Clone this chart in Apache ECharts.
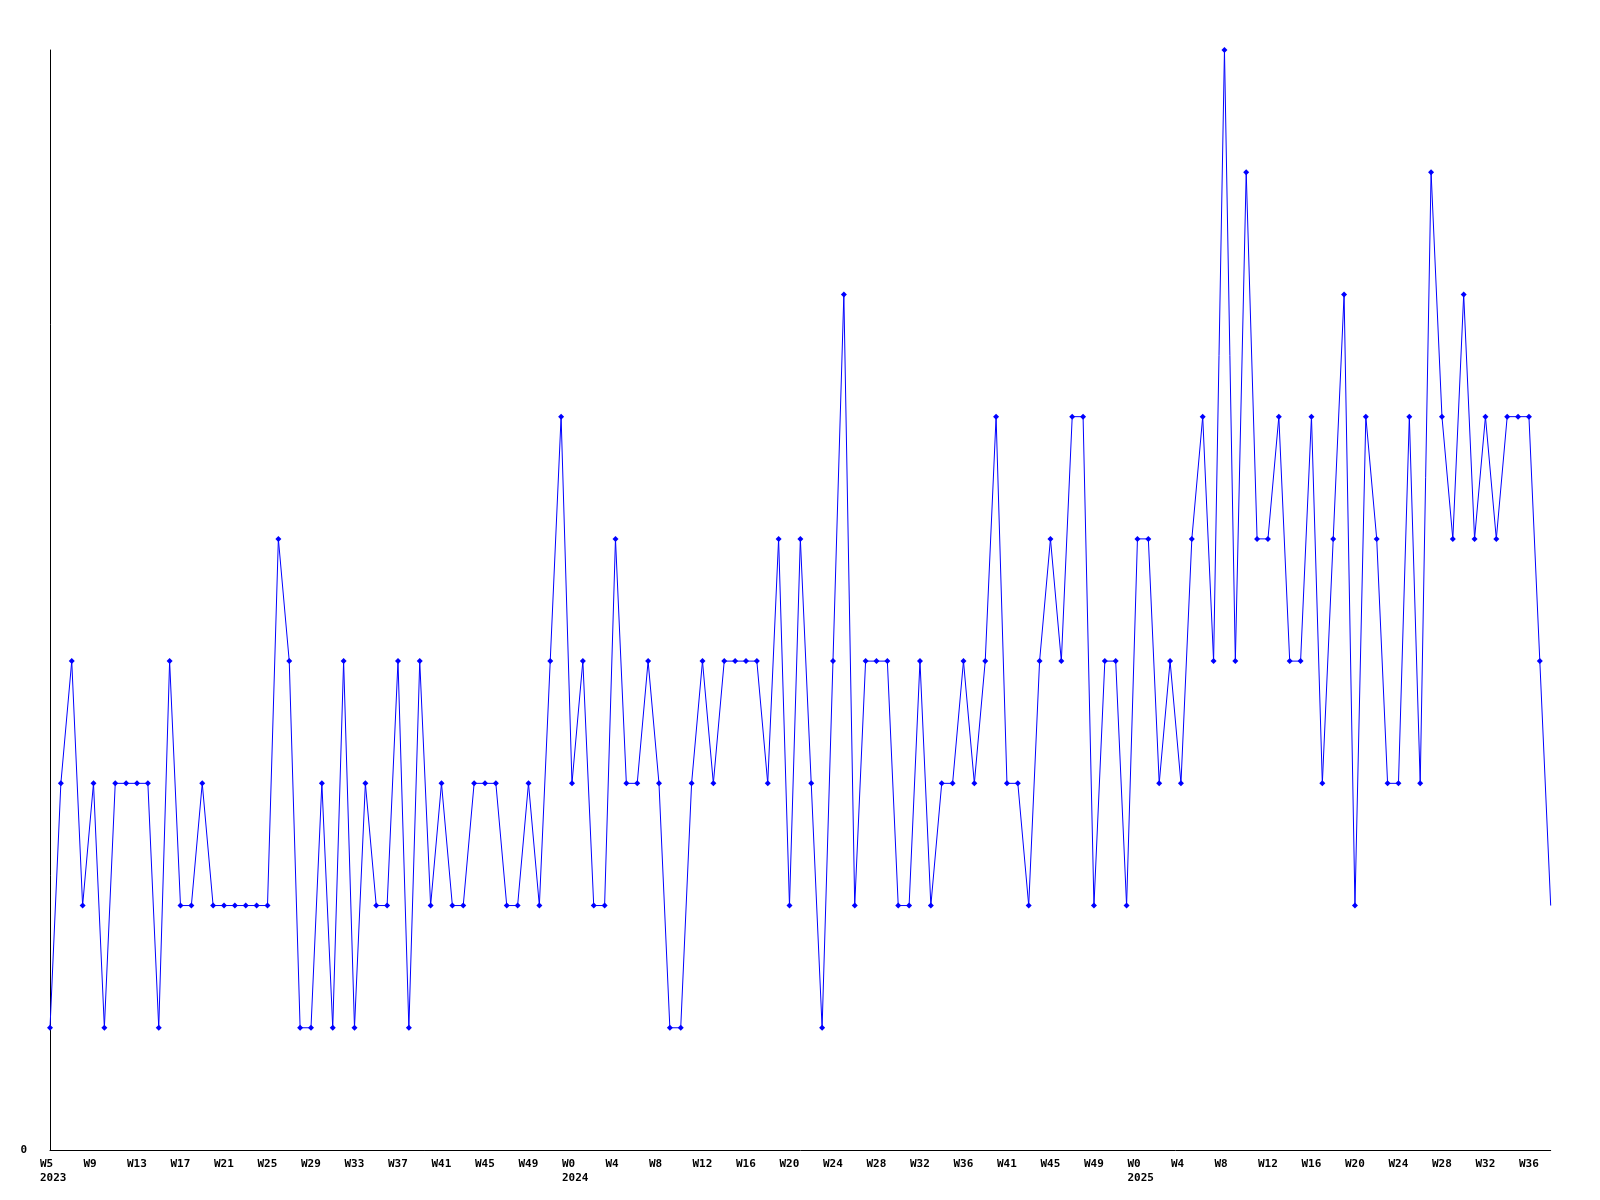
<!DOCTYPE html>
<html>
<head>
<meta charset="utf-8">
<script src="https://cdn.jsdelivr.net/npm/echarts@6/dist/echarts.min.js"></script>
<style>
  html, body { margin: 0; padding: 0; background: #ffffff; }
  #chart { width: 1600px; height: 1200px; }
</style>
</head>
<body>
<div id="chart"></div>
<script>
// Week categories per year (week numbers as shown on the axis)
const weeks2023 = [5,6,7,8,9,10,11,12,13,14,15,16,17,18,19,20,21,22,23,24,25,26,27,28,29,30,31,32,33,34,35,36,37,38,39,40,41,42,43,44,45,46,47,48,49,50,51,52];
const weeks2024 = [0,1,2,3,4,5,6,7,8,9,10,11,12,13,14,15,16,17,18,19,20,21,22,23,24,25,26,27,28,29,30,31,32,33,34,35,36,38,39,40,41,42,43,44,45,46,47,48,49,50,51,52];
const weeks2025 = [0,1,2,3,4,5,6,7,8,9,10,11,12,13,14,15,16,17,18,19,20,21,22,23,24,25,26,27,28,29,30,31,32,33,34,35,36,37,38];

// Series values per year
const values2023 = [1,3,4,2,3,1,3,3,3,3, 1,4,2,2,3,2,2,2,2,2, 2,5,4,1,1,3,1,4,1,3, 2,2,4,1,4,2,3,2,2,3, 3,3,2,2,3,2,4,6];
const values2024 = [3,4,2,2,5,3,3,4,3,1, 1,3,4,3,4,4,4,4,3,5, 2,5,3,1,4,7,2,4,4,4, 2,2,4,2,3,3,4,3,4,6, 3,3,2,4,5,4,6,6,2,4, 4,2];
const values2025 = [5,5,3,4,3,5,6,4,9,4, 8,5,5,6,4,4,6,3,5,7, 2,6,5,3,3,6,3,8,6,5, 7,5,6,5,6,6,6,4,2];

const yTickLabels = ['0'];

const categories = []
  .concat(weeks2023.map(w => '2023-W' + w))
  .concat(weeks2024.map(w => '2024-W' + w))
  .concat(weeks2025.map(w => '2025-W' + w));
const values = [].concat(values2023, values2024, values2025);

const seriesData = values.map((v, i) =>
  i === values.length - 1 ? { value: v, symbol: 'none' } : v
);

const FONT = 'DejaVu Sans Mono';

function xLabel(value, index) {
  const parts = value.split('-');
  const prev = index > 0 ? categories[index - 1].split('-')[0] : null;
  if (prev !== parts[0]) return parts[1] + '\n' + parts[0];
  return parts[1];
}

const chart = echarts.init(document.getElementById('chart'), null, { renderer: 'canvas' });
chart.setOption({
  animation: false,
  backgroundColor: '#ffffff',
  grid: [
    { left: 50, right: 49.3, top: 50, bottom: 50, containLabel: false },
    { left: 40, right: 59.3, top: 50, bottom: 50, containLabel: false }
  ],
  xAxis: [
    {
      type: 'category', gridIndex: 0, data: categories, boundaryGap: false,
      axisLine: { show: true, onZero: false, lineStyle: { color: '#000000', width: 1 } },
      axisTick: { show: false },
      axisLabel: { show: false },
      splitLine: { show: false }
    },
    {
      type: 'category', gridIndex: 1, data: categories, boundaryGap: false,
      axisLine: { show: false },
      axisTick: { show: false },
      splitLine: { show: false },
      axisLabel: {
        show: true, interval: 3, align: 'left', margin: 7,
        fontFamily: FONT, fontWeight: 'bold', fontSize: 11, lineHeight: 14,
        color: '#000000', formatter: xLabel
      }
    }
  ],
  yAxis: [
    {
      type: 'value', gridIndex: 0, min: 0, max: 9, interval: 9,
      axisLine: { show: true, lineStyle: { color: '#000000', width: 1 } },
      axisTick: { show: false },
      splitLine: { show: false },
      axisLabel: {
        margin: 23, fontFamily: FONT, fontWeight: 'bold', fontSize: 11, color: '#000000',
        formatter: v => (v === 0 ? yTickLabels[0] : '')
      }
    },
    { type: 'value', gridIndex: 1, min: 0, max: 1, show: false }
  ],
  series: [
    {
      type: 'line', xAxisIndex: 0, yAxisIndex: 0, data: seriesData,
      symbol: 'diamond', symbolSize: 6, showAllSymbol: true,
      lineStyle: { color: '#0000ff', width: 1 },
      itemStyle: { color: '#0000ff' },
      emphasis: { disabled: true }
    }
  ]
});
</script>
</body>
</html>
